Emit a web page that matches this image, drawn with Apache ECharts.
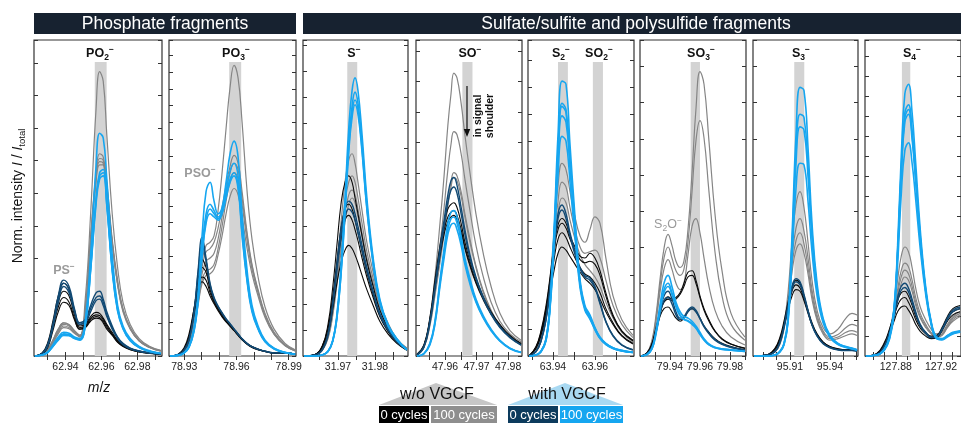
<!DOCTYPE html>
<html><head><meta charset="utf-8">
<script src="https://cdn.jsdelivr.net/npm/echarts@6/dist/echarts.min.js"></script>
<style>html,body{margin:0;padding:0;background:#fff}#c{width:961px;height:423px}</style>
</head><body><div id="c"></div>
<script>
// ---------------- DATA (m/z samples and normalised intensities, % of panel height) ----------------
// Panel 1: PO2- / PS-
const p1_mz = [62.923,62.927,62.930,62.933,62.936,62.939,62.942,62.945,62.948,62.951,62.954,62.957,62.959,62.961,62.963,62.966,62.969,62.972,62.976,62.981,62.987,62.993];
const p1_gray = [
 [0,0.5,2,5,8.5,10.5,10,8,6.5,18,45,78,90,87,70,45,28,17,10,5.5,3,1.8],
 [0,0.5,2,5,8.5,10.5,9.8,8,6.5,15,38,58,64,63,55,37,24,15,9,5,2.8,1.7],
 [0,0.4,1.8,4.5,8,10,9.5,7.8,6.3,14.5,37,57,62.5,62,54,36,23,14.5,8.8,4.8,2.7,1.6],
 [0,0.4,1.7,4.5,7.5,9.5,9,7.5,6.2,14,36,56,61.5,61,53,36,23,14.5,8.8,4.8,2.7,1.6],
 [0,0.4,1.6,4,7,9,8.6,7.2,6,13.5,35,55,60.5,60.5,52.5,35.5,22.5,14,8.5,4.7,2.6,1.5]];
const p1_black = [
 [0,1,4,11,19,23,21,14,9.5,10,12.5,13.8,13.5,12,10,7.5,5,3.5,2.3,1.5,1,0.7],
 [0,0.8,3.5,10,17,20.5,19,13,9,9.5,12,13,12.8,11.5,9.5,7,4.8,3.3,2.2,1.4,0.9,0.6],
 [0,0.8,3,9,15.5,18.5,17,12,8.5,9,11.5,12.5,12.2,11,9,6.8,4.5,3.2,2.1,1.3,0.9,0.6],
 [0,0.6,2.5,8,14,17,16,11.5,8.5,9,11,12,11.8,10.5,8.5,6.5,4.3,3,2,1.3,0.8,0.5]];
const p1_navy = [
 [0,0.8,3.5,10,19,24,22,15,10.5,11.5,16,20,20.5,18,14,9.5,6,4,2.5,1.6,1,0.7],
 [0,0.7,3,9.5,18,23,21,14.5,10,11,15,18.5,19,17,13,9,5.8,3.8,2.4,1.5,1,0.6],
 [0,0.6,3,9,17,22,20,14,10,10.5,14,17.5,18,16,12.5,8.5,5.5,3.6,2.3,1.5,0.9,0.6]];
const p1_blue = [
 [0,0.3,1.2,3.5,6,7.5,7.2,6,5.5,11,32,60,70.5,69,56,32,16,9.5,5.5,3,1.6,0.9],
 [0,0.3,1.2,3.2,5.5,7,6.8,5.8,5.3,10,28,50,58,59,49,28,15,9,5,2.8,1.5,0.8],
 [0,0.3,1.1,3,5.2,6.8,6.6,5.6,5.2,9.8,27.5,49,57,58,48,27.5,14.5,8.8,4.9,2.7,1.4,0.8],
 [0,0.3,1,3,5,6.5,6.4,5.5,5,9.5,27,48,56,57,47.5,27,14.2,8.6,4.8,2.7,1.4,0.8]];

// Panel 2: PO3- / PSO-
const p2_mz = [78.9218,78.9264,78.9298,78.9327,78.9356,78.9379,78.9402,78.9425,78.9448,78.9471,78.9494,78.9517,78.9540,78.9563,78.9586,78.9609,78.9632,78.9661,78.9689,78.9724,78.9764,78.9816,78.9879,78.9937];
const p2_gray = [
 [0,0.3,1.5,4,11,20,30,35,36,38,46,58,72,85,92,88,74,52,37,25,15.5,8.5,4,2],
 [0,0.3,1.5,4,10.5,19,28,33,34,36,40.5,47,54,60,63.5,61,52,39,29,21,13.5,7.5,3.6,1.8],
 [0,0.3,1.4,4,10,18,26,30,31,32.5,37,44,52,58,61,59,50,38,28.5,20.5,13,7.2,3.4,1.7],
 [0,0.3,1.4,3.8,9.5,17,24,27,27.5,29,34,41,49,55,58,56,48,36.5,27.5,20,12.7,7,3.3,1.7],
 [0,0.3,1.3,3.5,9,16,23,25.5,26,27.5,32,38,45,50.5,53,51,44,34,26,19,12.2,6.8,3.2,1.6]];
const p2_black = [
 [0,0.5,2,6,15,24,30.5,28,22,18,15.5,13.5,11.5,10,8.5,7,5.5,4,3,2.2,1.5,1,1,0.6],
 [0,0.5,2,6,14,22,28,26.5,21,17.5,15,13,11.2,9.8,8.3,6.8,5.3,3.9,2.9,2.1,1.5,1,1,0.6],
 [0,0.4,1.8,5.5,13,20,25,24,20,17,14.7,12.7,11,9.6,8.1,6.6,5.2,3.8,2.8,2,1.4,1,0.9,0.6],
 [0,0.6,2.5,7,15,21,23.5,22,19,16.5,14.3,12.4,10.8,9.4,8,6.5,5.1,3.7,2.7,2,1.4,0.9,0.9,0.5]];
const p2_navy = [
 [0,0.4,1.8,5,14,27,37.5,31,23,18.5,15.8,13.7,11.8,10.2,8.6,7,5.5,4,3,2.2,1.5,1,1,0.6],
 [0,0.4,1.7,5,13.5,26,35,30,22.5,18.2,15.6,13.5,11.6,10.1,8.5,6.9,5.4,3.9,2.9,2.1,1.5,1,1,0.6]];
const p2_blue = [
 [0,0.2,1,3,9,20,38,52,55,49,45,47,55,64,68,63,45,27,16,9.5,5,2.5,1.2,0.6],
 [0,0.2,1,3,8.5,18.5,34,45,48,46,44,46,52,58.5,61,57,41,25,15,9,4.8,2.4,1.1,0.6],
 [0,0.2,0.9,2.8,8,17.5,32,43,46.5,45,43.5,45.5,51,56,58,54,39,24,14.5,8.7,4.6,2.3,1.1,0.6],
 [0,0.2,0.9,2.7,7.8,17,31,42,45,44,43,45,50,55,57,53,38,23.5,14,8.5,4.5,2.2,1,0.5]];

// Panel 3: S-
const p3_mz = [31.9608,31.9638,31.9657,31.9673,31.9686,31.9697,31.9708,31.9719,31.9729,31.9738,31.9746,31.9754,31.9765,31.9778,31.9795,31.9813,31.9835,31.9859,31.9886];
const p3_gray = [
 [0,0.3,2,7,16,28,42,55,62,64,61,55,46,36,26.5,17,10.5,5.5,2.5],
 [0,0.3,2,6.5,15,26,38,49,55,57,55,50,42,33,24.5,16,10,5.2,2.4],
 [0,0.3,1.8,6,14,24,35,45,51,52.5,51,46.5,39,31,23,15,9.5,5,2.3],
 [0,0.3,1.7,5.5,13,22.5,33,42.5,48,50,48.5,44,37.5,30,22.5,14.8,9.3,4.9,2.2]];
const p3_black = [
 [0,0.5,3,10,22,35,48,55,57,55,50,45,38,30,22,14.5,9,5,2],
 [0,0.5,3,9,19,30,40,46.5,48,46.5,43,39,33,26.5,19.5,13,8,4.5,2],
 [0,0.5,2.8,8.5,18,28,37,43,44.5,43,40,36.5,31,25,18.5,12.5,7.8,4.3,1.9],
 [0,0.4,2.5,7,15,23,29.5,33.5,35,34,32,29.5,25.5,21,16,11,7,4,1.8]];
const p3_navy = [
 [0,0.3,2,7,17,29,40,46.5,49,48,45,41,35,28,20.5,13.5,8.5,4.6,2],
 [0,0.3,1.8,6.5,16,27,37.5,44,46.5,45.5,43,39,33.5,27,20,13,8.2,4.5,1.9]];
const p3_blue = [
 [0,0,0.3,1.5,5,13,28,50,72,84,88,84,70,50,31,18,10,5.5,2],
 [0,0,0.3,1.5,5,12.5,27,48,68,79,83.5,80,67,48,30,17.5,9.8,5.3,2],
 [0,0,0.3,1.4,4.8,12,26,46,66,77,81,78,65.5,47,29.5,17,9.6,5.2,2],
 [0,0,0.3,1.4,4.7,12,25.5,45,64.5,75.5,79.5,76.5,64.5,46.5,29,16.8,9.5,5.1,1.9]];

// Panel 4: SO-
const p4_mz = [47.9511,47.9533,47.9552,47.9568,47.9584,47.9597,47.9609,47.9619,47.9628,47.9638,47.9651,47.9663,47.9679,47.9698,47.9720,47.9746,47.9774,47.9806,47.9841];
const p4_gray = [
 [0.3,3,12,25,42,57,73,83,89.5,88,80,70,58,45,33,22,13.5,8,5],
 [0.3,3,11,22,35,47,59,67,71,70,64,56,46,35,25.5,17,11,7,4.5],
 [0.3,2.8,10,20,31,40,49,55,58,57,52,45,37,28.5,21,14.5,9.5,6,4],
 [0.3,2.6,9.5,19,29.5,38.5,47.5,53.5,56.5,55.5,50.5,44,36,28,20.5,14,9.2,5.8,3.8]];
const p4_black = [
 [0.5,3.5,12,24,35,42,46.5,48,48.5,47,42,36,30,24.5,19,14,10,6.5,4],
 [0.5,3.3,11.5,22.5,33,40,44,45.5,46,44.5,40,34.5,29,23.5,18.5,13.5,9.5,6.2,3.8],
 [0.4,3,11,21.5,31.5,38.5,42.5,44,44.5,43,39,34,28.5,23,18,13.2,9.3,6,3.7]];
const p4_navy = [
 [0.3,3,11,22,34,43,51,55.5,56.5,54,47,40,32,25,19,13.5,9.3,6,3.5],
 [0.3,2.8,10.5,21,32.5,41,48.5,52.5,53.5,51.5,45,38.5,31,24.5,18.5,13.2,9,5.8,3.4]];
const p4_blue = [
 [0,0.8,4,11,24,34,42,45.5,46,44,38,31,24.5,18,13,8.5,5,2.5,1.2],
 [0,0.7,3.8,10.5,23,32.5,40,43.5,44,42,36.5,30,23.5,17.5,12.5,8.2,4.8,2.4,1.1],
 [0,0.7,3.5,10,22,31,38.5,41.5,42,40,35,29,22.8,17,12.2,8,4.7,2.3,1.1]];

// Panel 5: S2- / SO2-
const p5_mz = [63.9286,63.9319,63.9343,63.9367,63.9386,63.9405,63.9424,63.9443,63.9462,63.9481,63.9505,63.9529,63.9552,63.9576,63.9600,63.9624,63.9652,63.9686,63.9728,63.9781];
const p5_gray = [
 [0,1.5,5,13,24,39,54,61,59,52,44,38,36,40,44,42,31,19,11.5,6.5],
 [0,1.4,4.7,12,22,35.5,49,55,53.5,47,40,34.5,32.5,33,33.5,31,24,16,10,5.8],
 [0,1.3,4.5,11.5,21,33,45,50,48.5,43,37,32,29,27,25,22,17,12,7.5,4.5]];
const p5_black = [
 [0,3,8,16,25,35,41.5,43.5,42,38,34.5,31.5,31,32.5,31,27,20,13,8,5],
 [0,2.8,7.5,15,24,33,40,42,40.5,37,33.5,30.5,29.5,30,29,25.5,19,12.5,7.8,4.8],
 [0,2.5,7,14,22,30.5,37,39,37.5,34.5,31,28,26,25,23,20,15,10.5,6.5,4],
 [0,2.3,6.5,13,20,27,32.5,34.5,33.5,31.5,29,26.5,24.5,23,21,18,14,10,6.3,3.8]];
const p5_navy = [
 [0,1.5,5,12,22,35,45,47.8,45,39,33,28,25.5,24.7,22,17,11,6.5,3.5,2],
 [0,1.4,4.7,11.5,21,33.5,43.5,46.2,43.5,38,32,27.5,25,24,21.5,16.5,10.8,6.3,3.4,1.9]];
const p5_blue = [
 [0,0.3,1.5,5.5,17,40,70,87,86,67,44,24,16,13,9,6,4,2.6,1.8,1.2],
 [0,0.3,1.5,5.3,16,38,65,80,78,62.5,41.5,23,15.5,12.5,8.8,5.8,3.9,2.5,1.7,1.2],
 [0,0.3,1.4,5.2,16,37.5,64,79,77,61.5,41,22.8,15.3,12.3,8.7,5.7,3.8,2.5,1.7,1.1],
 [0,0.3,1.4,5,15.5,36.5,62,76,74,59.5,40,22.5,15,12,8.5,5.6,3.7,2.4,1.6,1.1],
 [0,0.3,1.3,4.8,15,34,57,69.5,68,55,37.5,21.5,14.5,11.7,8.3,5.5,3.6,2.4,1.6,1.1]];

// Panel 6: SO3- / S2O-
const p6_mz = [79.9207,79.9247,79.9280,79.9307,79.9333,79.9360,79.9387,79.9413,79.9440,79.9467,79.9493,79.9520,79.9547,79.9573,79.9600,79.9627,79.9660,79.9700,79.9747,79.9807,79.9900];
const p6_gray = [
 [0,1,5,13,24,34,38.5,35,30,28,30,40,58,78,90,86,68,45,27,13.5,6],
 [0,1,4.5,12,22,31,34.5,31,27,25.5,27.5,36,52,68,74.5,69,52,33,19,10,5],
 [0,1,4,11,20,27.5,30.5,27.5,23,21,23,32,41,43.5,39,31,22,14.5,9.5,6,3.5]];
const p6_black = [
 [0,1,4,9,14,17.5,18.7,18,18.5,20,23,26.5,27,24,19,15,11.5,8,5.5,3.8,2.5],
 [0,1,3.8,8.5,13.5,17,18,17.5,18,19.5,22,25,25.5,23,18.5,14.5,11,7.8,5.3,3.7,2.4],
 [0,0.8,3.5,8,12.5,15,15.5,14,12,11,12,14,15,14,12,9.5,7.5,5.5,4,3,2]];
const p6_navy = [
 [0,0.7,3,8,14,19,20.5,18,14,12,12.5,14.5,15.5,14.5,12,9.5,7.3,5.2,3.8,2.8,1.9],
 [0,0.7,2.8,7.5,13,17.5,18.5,16.5,13,11.5,12,14,15,14,11.7,9.2,7,5,3.7,2.7,1.8]];
const p6_blue = [
 [0,0.5,2.5,8,16,23,25.5,22,17,14,12.5,12,11,9.5,7.5,5.5,3.8,2.8,2.3,2,1.5],
 [0,0.5,2.3,7.5,15,21,23,20,16,13,11.7,11.2,10.3,9,7,5.2,3.6,2.7,2.2,1.9,1.4],
 [0,0.4,2.2,7,14,20,22,19.5,15.5,12.7,11.5,11,10,8.8,6.8,5,3.5,2.6,2.1,1.8,1.4]];

// Panel 7: S3-
const p7_mz = [95.8830,95.8935,95.8988,95.9025,95.9055,95.9085,95.9115,95.9145,95.9175,95.9205,95.9235,95.9265,95.9303,95.9348,95.9400,95.9460,95.9520,95.9565,95.9603];
const p7_gray = [
 [0,0.3,1.5,4.5,10,20,36,48,52,47,36,24,14.5,9,7,8.5,12,13.5,13],
 [0,0.3,1.4,4.2,9.5,18,31,40.5,43.5,39.5,31,21,13,8,6,6.8,9,10,9.5],
 [0,0.3,1.3,4,9,17,28.5,36.5,39,35.5,28,19.5,12,7.5,5.5,6,7.5,8,7.5],
 [0,0.3,1.3,3.8,8.5,16,26.5,33.5,35.5,32.5,26,18,11.3,7,5,5.5,6.5,7,6.5]];
const p7_black = [
 [0,0.5,2.5,6,11,17,22,24,23,19,14.5,10.5,7,4.5,3,2.3,2,2.2,2],
 [0,0.5,2.3,5.5,10,15.5,20.5,22.5,21.5,18,14,10,6.8,4.3,2.9,2.2,2,2,1.8],
 [0,0.4,2,5,9.5,14.5,19,21,20.5,17.5,13.5,9.8,6.6,4.2,2.8,2.1,1.9,1.9,1.7]];
const p7_navy = [
 [0,0.3,1.5,4.5,9.5,16,22,24.5,23.5,19.5,14.5,10,6.5,4,2.7,2,1.8,1.8,1.6],
 [0,0.3,1.4,4.3,9,15,21,23.5,22.5,18.8,14,9.8,6.3,3.9,2.6,1.9,1.7,1.7,1.5]];
const p7_blue = [
 [0,0,0.3,1.5,4,12,38,70,85,84,66,42,23,12,6.5,4,3,2.5,2],
 [0,0,0.3,1.4,3.8,11.5,35,64,76.5,75.5,60,39,21.5,11.5,6.3,3.9,2.9,2.4,2],
 [0,0,0.3,1.4,3.7,11,33.5,61,72.5,71.5,57,37.5,21,11.2,6.1,3.8,2.8,2.3,1.9],
 [0,0,0.3,1.3,3.5,10.5,30,53,61,60.5,49,33,19,10.5,5.8,3.6,2.7,2.2,1.8]];

// Panel 8: S4-
const p8_mz = [127.8536,127.8632,127.8696,127.8744,127.8784,127.8816,127.8848,127.8880,127.8912,127.8944,127.8976,127.9016,127.9064,127.9112,127.9160,127.9208,127.9256,127.9304,127.9368];
const p8_gray = [
 [0,0.5,3,8,15,24,31.5,34.5,33,28,21.5,15.5,11.5,8.5,7,7.5,10,12.5,14],
 [0,0.5,2.8,7.5,13.5,21,27,29.4,28.2,24,18.5,13.5,10,7.5,6.5,7,9.5,12,13.5],
 [0,0.5,2.7,7,12.8,19.5,25,27.2,26,22,17,12.5,9.5,7.2,6.2,6.8,9.2,11.5,13],
 [0,0.4,2.5,6.5,12,18,23,25,24,20.5,16,12,9,7,6,6.5,9,11,12.5]];
const p8_black = [
 [0,0.8,4,8.5,13.5,17.5,20,20.5,19,16,12.5,9.5,7.5,6.3,6.5,9,12.5,15,16],
 [0,0.7,3.6,8,12.5,16,18,18.5,17,14.5,11.5,8.8,7,6,6.2,8.5,12,14,15],
 [0,0.6,3.2,7,11,14,15.5,15.8,14.5,12.5,10,7.8,6.3,5.5,5.8,8,11,13,14]];
const p8_navy = [
 [0,0.5,3,7.5,13,18.5,22,23,21.5,18,14,10,7.5,6,6.2,8.5,12,14.5,15.5],
 [0,0.5,2.8,7,12.3,17.5,20.8,21.7,20.3,17,13.3,9.6,7.2,5.8,6,8.2,11.5,14,15]];
const p8_blue = [
 [0,0.3,2,6,15,35,63,83,86,77,61,40,22,11,6,5.5,6.5,7.5,8],
 [0,0.3,1.9,5.8,14.5,33,59,77,79.5,71.5,57,38,21,10.7,5.8,5.4,6.4,7.3,7.8],
 [0,0.3,1.9,5.7,14.2,32.5,58,75.5,78,70,56,37.5,20.7,10.5,5.7,5.3,6.3,7.2,7.7],
 [0,0.3,1.8,5.6,14,32,57,74,76.5,68.5,55,37,20.5,10.4,5.6,5.2,6.2,7.1,7.6],
 [0,0.3,1.7,5.2,13,29,51,65,67.5,61,49.5,34,19.5,10,5.5,5.1,6,7,7.5]];

// Highlighted m/z windows (grey bands)
const p1_band = [[62.9563,62.9629]];
const p2_band = [[78.9558,78.9627]];
const p3_band = [[31.9725,31.9752]];
const p4_band = [[47.9655,47.9687]];
const p5_band = [[63.9424,63.9471],[63.9590,63.9638]];
const p6_band = [[79.9538,79.9600]];
const p7_band = [[95.9132,95.9207]];
const p8_band = [[127.8854,127.8928]];

// Tick labels and tick marks on the m/z axes
const p1_labels = [62.94,62.96,62.98];   const p1_ticks = [62.93,62.94,62.95,62.96,62.97,62.98,62.99];
const p2_labels = [78.93,78.96,78.99];   const p2_ticks = [78.93,78.94,78.95,78.96,78.97,78.98,78.99];
const p3_labels = [31.97,31.98];         const p3_ticks = [31.965,31.97,31.975,31.98,31.985];
const p4_labels = [47.96,47.97,47.98];   const p4_ticks = [47.955,47.96,47.965,47.97,47.975,47.98];
const p5_labels = [63.94,63.96];         const p5_ticks = [63.93,63.94,63.95,63.96,63.97];
const p6_labels = [79.94,79.96,79.98];   const p6_ticks = [79.93,79.94,79.95,79.96,79.97,79.98,79.99];
const p7_labels = [95.91,95.94];         const p7_ticks = [95.89,95.90,95.91,95.92,95.93,95.94,95.95,95.96];
const p8_labels = [127.88,127.92];       const p8_ticks = [127.86,127.87,127.88,127.89,127.90,127.91,127.92,127.93];

// ---------------- LAYOUT ----------------
const FONT = 'Liberation Sans';
const BAND_TOP = 93;
const layout = [ // left, width, xmin, xmax, y tick interval
 {left:34, width:128, min:62.9225, max:62.9937, yi:10.3},
 {left:169, width:127, min:78.9212, max:78.9942, yi:5.28},
 {left:303, width:105, min:31.96054, max:31.98892, yi:8.2},
 {left:416, width:106, min:47.9508, max:47.9844, yi:9.65},
 {left:528, width:106, min:63.9281, max:63.9786, yi:8.5},
 {left:640, width:106, min:79.92, max:79.9907, yi:11.45},
 {left:753, width:105, min:95.88225, max:95.961, yi:11.45},
 {left:865, width:106, min:127.8528, max:127.9376, yi:6.33}
];
const panels = [
 {mz:p1_mz, g:p1_gray, k:p1_black, n:p1_navy, b:p1_blue, band:p1_band, lab:p1_labels, tk:p1_ticks},
 {mz:p2_mz, g:p2_gray, k:p2_black, n:p2_navy, b:p2_blue, band:p2_band, lab:p2_labels, tk:p2_ticks},
 {mz:p3_mz, g:p3_gray, k:p3_black, n:p3_navy, b:p3_blue, band:p3_band, lab:p3_labels, tk:p3_ticks},
 {mz:p4_mz, g:p4_gray, k:p4_black, n:p4_navy, b:p4_blue, band:p4_band, lab:p4_labels, tk:p4_ticks},
 {mz:p5_mz, g:p5_gray, k:p5_black, n:p5_navy, b:p5_blue, band:p5_band, lab:p5_labels, tk:p5_ticks},
 {mz:p6_mz, g:p6_gray, k:p6_black, n:p6_navy, b:p6_blue, band:p6_band, lab:p6_labels, tk:p6_ticks},
 {mz:p7_mz, g:p7_gray, k:p7_black, n:p7_navy, b:p7_blue, band:p7_band, lab:p7_labels, tk:p7_ticks},
 {mz:p8_mz, g:p8_gray, k:p8_black, n:p8_navy, b:p8_blue, band:p8_band, lab:p8_labels, tk:p8_ticks}
];
const STYLE = {g:{c:'#858585',w:1.2}, k:{c:'#0a0a0a',w:1.1}, n:{c:'#124a74',w:1.4}, b:{c:'#16a6f0',w:1.6}};

const grid = [], xAxis = [], yAxis = [], series = [];
panels.forEach((p, i) => {
  const L = layout[i];
  grid.push({left:L.left, top:40, width:L.width, height:316, show:true, borderColor:'#333', borderWidth:1.2, backgroundColor:'transparent'});
  const tick = {inside:true, length:4, lineStyle:{color:'#333', width:1}, customValues:p.tk};
  xAxis.push({type:'value', gridIndex:i, position:'bottom', min:L.min, max:L.max,
    axisLine:{show:false}, splitLine:{show:false}, axisTick:tick,
    axisLabel:{customValues:p.lab, fontSize:10.5, color:'#222', fontFamily:FONT, margin:6,
      formatter:v => v.toFixed(2)}});
  xAxis.push({type:'value', gridIndex:i, position:'top', min:L.min, max:L.max,
    axisLine:{show:false}, splitLine:{show:false}, axisTick:tick, axisLabel:{show:false}});
  ['left','right'].forEach(pos => yAxis.push({type:'value', gridIndex:i, position:pos, min:0, max:100, interval:L.yi,
    axisLine:{show:false}, splitLine:{show:false}, axisLabel:{show:false},
    axisTick:{inside:true, length:4, lineStyle:{color:'#333'}}}));
  series.push({type:'line', xAxisIndex:2*i, yAxisIndex:2*i, data:[], z:1, silent:true,
    markArea:{silent:true, itemStyle:{color:'#d3d3d3'},
      data:p.band.map(b => [{xAxis:b[0], yAxis:0}, {xAxis:b[1], yAxis:BAND_TOP}])}});
  ['g','k','n','b'].forEach(key => {
    p[key].forEach(curve => {
      series.push({type:'line', xAxisIndex:2*i, yAxisIndex:2*i, z:3, silent:true,
        showSymbol:false, smooth:0.45,
        lineStyle:{color:STYLE[key].c, width:STYLE[key].w},
        data:p.mz.map((x, j) => [x, curve[j]])});
    });
  });
});

// ---------------- TEXT HELPERS ----------------
const mctx = document.createElement('canvas').getContext('2d');
function tw(t, size, weight, style) {
  mctx.font = `${style} ${weight} ${size}px "${FONT}"`;
  return mctx.measureText(t).width;
}
function runs(parts, cx, cy, base, opt) {
  opt = opt || {};
  const color = opt.color || '#111', weight = opt.weight || 'normal';
  const items = parts.map(([t, kind]) => {
    let size = base, dy = 0, style = 'normal';
    if (kind === 'sub') { size = base*0.68; dy = base*0.32; }
    if (kind === 'sup') { size = base*0.68; dy = -base*0.36; }
    if (kind === 'i') style = 'italic';
    return {t, size, dy, style, weight, w:tw(t, size, weight, style)};
  });
  const total = items.reduce((s, it) => s + it.w, 0);
  let x = -total/2;
  const children = items.map(it => {
    const el = {type:'text', x:x, y:it.dy, style:{text:it.t, fontSize:it.size, fontWeight:it.weight,
      fontStyle:it.style, fontFamily:FONT, fill:color, align:'left', verticalAlign:'middle'}};
    x += it.w; return el;
  });
  return {type:'group', x:cx, y:cy, rotation:opt.rotation || 0, children, z:100};
}
const M = '\u2212';
function txt(t, x, y, size, fill, extra) {
  return Object.assign({type:'text', x, y, z:101, style:Object.assign({text:t, fill, fontSize:size, fontFamily:FONT, align:'center', verticalAlign:'middle'}, (extra||{}).style||{})}, extra && extra.rotation ? {rotation:extra.rotation} : {});
}
const graphic = [
  {type:'rect', shape:{x:34, y:13, width:262, height:21}, style:{fill:'#172230'}, z:100},
  {type:'rect', shape:{x:303, y:13, width:670, height:21}, style:{fill:'#172230'}, z:100},
  txt('Phosphate fragments', 165, 24, 17.5, '#fff'),
  txt('Sulfate/sulfite and polysulfide fragments', 636, 24, 17.5, '#fff'),
  // peak labels
  runs([['PO'],['2','sub'],[M,'sup']], 100, 54, 12.5, {weight:'bold'}),
  runs([['PO'],['3','sub'],[M,'sup']], 236, 54, 12.5, {weight:'bold'}),
  runs([['S'],[M,'sup']], 354, 54, 12.5, {weight:'bold'}),
  runs([['SO'],[M,'sup']], 470, 54, 12.5, {weight:'bold'}),
  runs([['S'],['2','sub'],[M,'sup']], 561, 54, 12.5, {weight:'bold'}),
  runs([['SO'],['2','sub'],[M,'sup']], 599, 54, 12.5, {weight:'bold'}),
  runs([['SO'],['3','sub'],[M,'sup']], 701, 54, 12.5, {weight:'bold'}),
  runs([['S'],['3','sub'],[M,'sup']], 801, 54, 12.5, {weight:'bold'}),
  runs([['S'],['4','sub'],[M,'sup']], 912, 54, 12.5, {weight:'bold'}),
  // grey fragment labels
  runs([['PS'],[M,'sup']], 64, 271, 12.5, {weight:'bold', color:'#9a9a9a'}),
  runs([['PSO'],[M,'sup']], 200, 174, 12.5, {weight:'bold', color:'#9a9a9a'}),
  runs([['S'],['2','sub'],['O'],[M,'sup']], 668, 225, 12.5, {color:'#9a9a9a'}),
  // axis titles
  runs([['Norm. intensity '],['I','i'],[' / '],['I','i'],['total','sub']], 18, 196, 14, {rotation:Math.PI/2}),
  runs([['m','i'],['/'],['z','i']], 99, 388, 14),
  // signal shoulder annotation
  {type:'line', shape:{x1:467, y1:86, x2:467, y2:131}, style:{stroke:'#111', lineWidth:1.2}, z:100},
  {type:'polygon', shape:{points:[[463.8,129],[470.2,129],[467,137]]}, style:{fill:'#111'}, z:100},
  txt('in signal', 478, 116, 10.5, '#111', {rotation:Math.PI/2, style:{fontWeight:'bold'}}),
  txt('shoulder', 490, 116, 10.5, '#111', {rotation:Math.PI/2, style:{fontWeight:'bold'}}),
  // legend
  {type:'polygon', shape:{points:[[379,405],[436,383],[497,405]]}, style:{fill:'#c6c6c6'}, z:100},
  {type:'polygon', shape:{points:[[508,405],[565,383],[623,405]]}, style:{fill:'#a9d9f2'}, z:100},
  txt('w/o VGCF', 437, 395, 16, '#111'),
  txt('with VGCF', 567, 395, 16, '#111'),
  {type:'rect', shape:{x:379, y:406, width:50, height:17}, style:{fill:'#000'}, z:100},
  {type:'rect', shape:{x:431, y:406, width:66, height:17}, style:{fill:'#8e8e8e'}, z:100},
  {type:'rect', shape:{x:508, y:406, width:50, height:17}, style:{fill:'#0c3b5d'}, z:100},
  {type:'rect', shape:{x:560, y:406, width:63, height:17}, style:{fill:'#16a6f0'}, z:100},
  txt('0 cycles', 404, 415, 13, '#fff'),
  txt('100 cycles', 464, 415, 13, '#fff'),
  txt('0 cycles', 533, 415, 13, '#fff'),
  txt('100 cycles', 591.5, 415, 13, '#fff')
];

const chart = echarts.init(document.getElementById('c'), null, {renderer:'canvas'});
chart.setOption({backgroundColor:'#fff', animation:false, textStyle:{fontFamily:FONT},
  grid, xAxis, yAxis, series, graphic});
</script></body></html>
